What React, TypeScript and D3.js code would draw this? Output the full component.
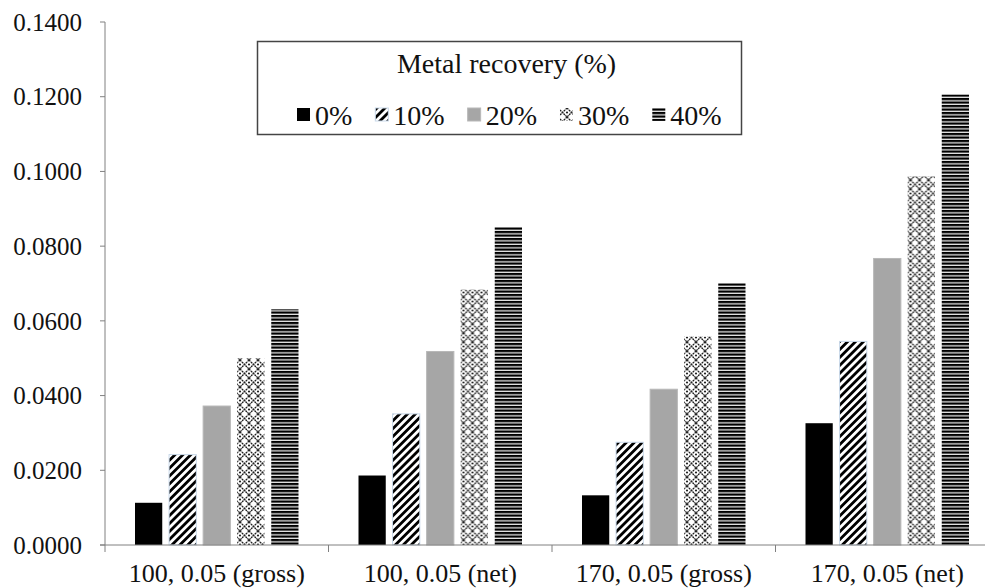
import React from "react";
import * as d3 from "d3";

const categories = ["100, 0.05 (gross)", "100, 0.05 (net)", "170, 0.05 (gross)", "170, 0.05 (net)"];
const seriesNames = ["0%", "10%", "20%", "30%", "40%"];
const values0 = [0.0113, 0.0186, 0.0133, 0.0326];
const values10 = [0.0242, 0.0351, 0.0275, 0.0545];
const values20 = [0.0372, 0.0518, 0.0417, 0.0767];
const values30 = [0.05, 0.0684, 0.0558, 0.0987];
const values40 = [0.0631, 0.0851, 0.0701, 0.1206];
const seriesValues = [values0, values10, values20, values30, values40];
const yTicks = [0, 0.02, 0.04, 0.06, 0.08, 0.1, 0.12, 0.14];
const legendTitle = "Metal recovery (%)";

const W = 985;
const H = 588;
const FONT = "Liberation Serif, DejaVu Serif, serif";

const fills = ["#000000", "url(#pDiag)", "#a6a6a6", "url(#pCross)", "url(#pHoriz)"];
const strokes = ["none", "#c9d9ea", "#b8b8b8", "none", "none"];

export default function App() {
  const y = d3.scaleLinear().domain([0, 0.14]).range([545, 22]);
  const x0 = d3.scaleBand<string>().domain(categories).range([105, 999]).padding(0);
  const x1 = d3
    .scaleBand<string>()
    .domain(seriesNames)
    .range([30, x0.bandwidth() - 30])
    .paddingInner(0.2)
    .paddingOuter(0);

  const legendFont = 28;
  const swatch = 13;
  const textW = (s: string) => legendFont * (0.5 * (s.length - 1) + 0.833);
  const legendItems: { x: number; tx: number; name: string; i: number }[] = [];
  let lx = 297;
  seriesNames.forEach((name, i) => {
    legendItems.push({ x: lx, tx: lx + swatch + 5, name, i });
    lx += swatch + 5 + textW(name) + 23;
  });

  const boundaries = [...categories.map((c) => x0(c) as number), 999];
  const textStyle = { fontFamily: FONT };

  return (
    <svg
      width={W}
      height={H}
      style={{ position: "absolute", left: 0, top: 0, background: "#fff", fontFamily: FONT }}
    >
      <defs>
        <pattern id="pDiag" width="5.6" height="5.6" patternUnits="userSpaceOnUse" patternTransform="rotate(45)">
          <rect width="5.6" height="5.6" fill="#fff" />
          <rect x="0" y="0" width="2.8" height="5.6" fill="#000" />
        </pattern>
        <pattern id="pCross" width="9" height="9" patternUnits="userSpaceOnUse">
          <rect width="9" height="9" fill="#fff" />
          <path d="M0,0 L9,9 M9,0 L0,9" stroke="#222" strokeWidth="1.3" strokeDasharray="2,0.6" />
          <circle cx="0" cy="4.5" r="1.1" fill="#222" />
          <circle cx="9" cy="4.5" r="1.1" fill="#222" />
        </pattern>
        <pattern id="pHoriz" width="6" height="3.5" patternUnits="userSpaceOnUse">
          <rect width="6" height="3.5" fill="#e8e8e8" />
          <rect x="0" y="0" width="6" height="2.2" fill="#000" />
        </pattern>
      </defs>

      {/* bars */}
      {categories.map((c, ci) => (
        <g key={c} transform={`translate(${x0(c)},0)`}>
          {seriesNames.map((s, si) => {
            const v = seriesValues[si][ci];
            return (
              <rect
                key={s}
                x={x1(s)}
                y={y(v)}
                width={x1.bandwidth()}
                height={y(0) - y(v)}
                fill={fills[si]}
                stroke={strokes[si]}
                strokeWidth={1}
              />
            );
          })}
        </g>
      ))}

      {/* y axis */}
      <line x1={105} x2={105} y1={y(0.14)} y2={y(0)} stroke="#808080" strokeWidth={1} />
      {yTicks.map((t) => (
        <g key={t}>
          <line x1={100} x2={105} y1={y(t)} y2={y(t)} stroke="#808080" strokeWidth={1} />
          <text x={82} y={y(t)} dy="0.35em" textAnchor="end" fontSize={25} fill="#111" style={textStyle}>
            {d3.format(".4f")(t)}
          </text>
        </g>
      ))}

      {/* x axis */}
      <line x1={100} x2={999} y1={y(0)} y2={y(0)} stroke="#808080" strokeWidth={1} />
      {boundaries.map((bx, i) => (
        <line key={i} x1={bx} x2={bx} y1={y(0)} y2={y(0) + 7} stroke="#808080" strokeWidth={1} />
      ))}
      {categories.map((c) => (
        <text
          key={c}
          x={(x0(c) as number) + x0.bandwidth() / 2}
          y={582}
          textAnchor="middle"
          fontSize={26}
          fill="#111"
          style={textStyle}
        >
          {c}
        </text>
      ))}

      {/* legend */}
      <rect x={257.5} y={41.5} width={484} height={93} fill="#fff" stroke="#444" strokeWidth={1.5} />
      <text x={506.5} y={73} textAnchor="middle" fontSize={legendFont} fill="#111" style={textStyle}>
        {legendTitle}
      </text>
      {legendItems.map((it) => (
        <g key={it.name}>
          <rect
            x={it.x}
            y={108}
            width={swatch}
            height={swatch}
            fill={fills[it.i]}
            stroke={strokes[it.i]}
            strokeWidth={1}
          />
          <text x={it.tx} y={125} fontSize={legendFont} fill="#111" style={textStyle}>
            {it.name}
          </text>
        </g>
      ))}
    </svg>
  );
}
